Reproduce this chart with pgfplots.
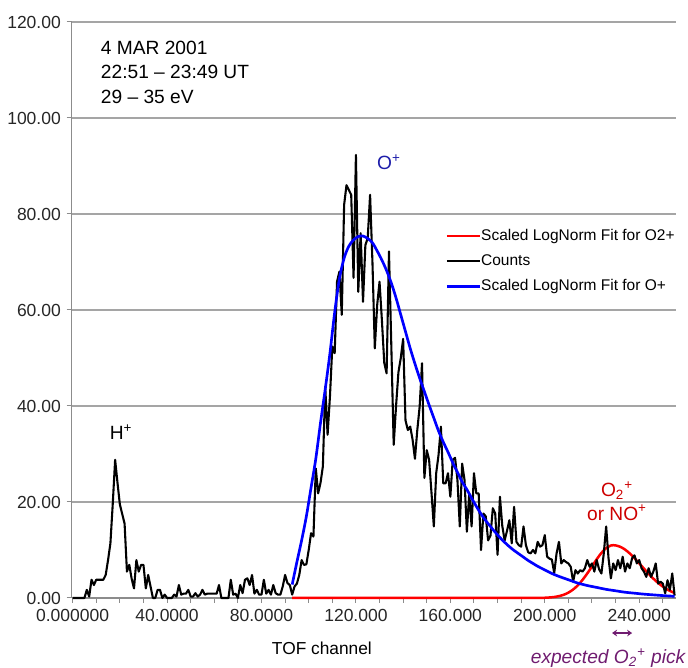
\documentclass[border=0pt]{standalone}
\usepackage{fontspec}
\setmainfont{Liberation Sans}
\usepackage{pgfplots}
\pgfplotsset{compat=1.18}
\usepackage{pgfplotstable}
\usetikzlibrary{arrows.meta}
\definecolor{gridgray}{RGB}{165,165,165}
\definecolor{axgray}{RGB}{140,140,140}
\definecolor{annblue}{RGB}{30,30,170}
\definecolor{annred}{RGB}{205,0,0}
\definecolor{annpurple}{RGB}{112,28,112}

\pgfplotstableread{
x y
0 0
1 0
2 0
3 0
4 0
5 0
6 1.7
7 0.3
8 3.8
9 2.7
10 3.8
11 3.8
12 3.8
13 3.8
14 4.8
15 7.9
16 11.4
17 19.7
18 28.8
19 24
20 19.5
21 17.5
22 15.5
23 5.5
24 6.9
25 4
26 2
27 7.9
28 5.5
29 6.9
30 6.9
31 2
32 4.8
33 2.4
34 0
35 0
36 1.7
37 1.7
38 0
39 0.7
40 0
41 0
42 0
43 0.7
44 0.3
45 2.7
46 0.7
47 0.9
48 0.9
49 1.7
50 0.3
51 0.3
52 1
53 0.3
54 0.7
55 1.7
56 0.7
57 0.9
58 0.9
59 0.9
60 0.9
61 0.9
62 2.7
63 0
64 0
65 0
66 0
67 3.8
68 0.7
69 0.9
70 0
71 2.7
72 1
73 3.8
74 4.1
75 2.7
76 4.8
77 0.9
78 1.7
79 0.7
80 0.7
81 3.8
82 0.9
83 1.7
84 0.7
85 2.7
86 1
87 0.7
88 0.7
89 2.4
90 4.8
91 3.1
92 2.7
93 0.7
94 2.4
95 3
96 4.8
97 7.9
98 6.9
99 7
100 10
101 13.5
102 12.8
103 27
104 21.8
105 24
106 27.4
107 44
108 34
109 42
110 52.4
111 51
112 65.9
113 68
114 59
115 81.9
116 86
117 85
118 84
119 66.7
120 92.3
121 63.8
122 76
123 61.7
124 73.5
125 75
126 84
127 70
128 52
129 61
130 65.9
131 57.9
132 49
133 46.8
134 72.2
135 52.4
136 31.9
137 40
138 47
139 50
140 54
141 37
142 35
143 35.7
144 33
145 29
146 35
147 39.9
148 48.9
149 25
150 30.8
151 28.8
152 22
153 14.9
154 26
155 29.8
156 35.7
157 23.9
158 23.9
159 26
160 21.1
161 28.8
162 29.2
163 24.6
164 14.9
165 28
166 24.6
167 13.8
168 21.8
169 14.9
170 26
171 21.8
172 21.8
173 10
174 17.6
175 17
176 12
177 13
178 18.7
179 17.6
180 9
181 21.1
182 15
183 12
184 14
185 16.2
186 11.4
187 19
188 11.7
189 11
190 10.7
191 14.9
192 11
193 9.5
194 9.3
195 10
196 9.3
197 11.7
198 10.7
199 11
200 13.1
201 8.6
202 8.2
203 8
204 5.2
205 9.3
206 11.7
207 7.2
208 7.9
209 7.5
210 7.2
211 6.5
212 3.4
213 5.8
214 5.1
215 5.8
216 5.5
217 6.2
218 7.9
219 6.5
220 7.2
221 5.5
222 7.9
223 6
224 5.1
225 9.3
226 14.9
227 8.3
228 4.1
229 7.2
230 5.8
231 7.9
232 6.2
233 8.6
234 5.5
235 7.2
236 6.2
237 8.3
238 8.9
239 7.2
240 7.9
241 6.2
242 5.5
243 4.4
244 6.2
245 4.4
246 5.5
247 7.2
248 3
249 3.4
250 3
251 1
252 3.7
253 1.7
254 5.1
255 0.5
}\counts

\pgfplotstableread{
x y
93 2.8
95 7.5
97 12
99 17
101 23
103 29
105 36.5
107 43.5
109 51
111 59.5
113 66.5
115 70.8
117 73.3
119 74.6
121 75.3
123 75.4
125 74.9
127 74
129 72.3
131 70.4
133 68.2
135 65.6
137 62.5
139 59
141 55.5
143 52
145 48.8
147 45.8
149 43
151 40.2
153 37.5
155 34.8
157 32.5
159 30.4
161 28.2
163 26.2
165 24.2
167 22.6
169 20.8
171 19.1
173 17.5
175 16.1
177 14.9
179 13.7
181 12.6
183 11.6
185 10.7
187 9.9
189 9.2
191 8.5
193 7.8
195 7.2
197 6.6
199 6.1
201 5.6
203 5.1
206 4.5
210 3.8
214 3.1
218 2.6
222 2.2
226 1.8
230 1.5
234 1.2
238 1.0
242 0.8
246 0.65
250 0.5
255 0.35
}\ofit

\pgfplotstableread{
x y
93 0
150 0
196 0
198 0.02
200 0.05
202 0.11
204 0.21
206 0.39
208 0.67
210 1.12
212 1.76
214 2.65
216 3.77
218 5.11
220 6.59
222 8.07
224 9.39
226 10.39
228 10.93
229 11
230 10.96
232 10.66
234 10.09
236 9.28
238 8.30
240 7.23
242 6.12
244 5.04
246 4.03
248 3.14
250 2.38
252 1.75
254 1.25
255 1.05
}\otwofit

\begin{document}
\begin{tikzpicture}
\useasboundingbox (-43.02pt,-42pt) rectangle (369.78pt,358.8pt);
\begin{axis}[
 at={(0,0)}, anchor=south west,
 width=362.6pt, height=345.6pt, scale only axis,
 xmin=-0.4, xmax=255.6, ymin=0, ymax=120,
 axis x line*=bottom, axis y line*=left,
 axis line style={axgray, line width=0.8pt, -},
 xtick={0,40,...,240},
 xticklabels={0.000000,40.0000,80.0000,120.000,160.000,200.000,240.000},
 minor xtick={10,20,...,250},
 ytick={0,20,...,120},
 tick align=outside,
 major tick length=3pt, minor tick length=3pt,
 tick style={axgray, line width=0.6pt},
 ymajorgrids, grid style={gridgray, line width=0.8pt},
 yticklabel style={/pgf/number format/.cd, fixed, fixed zerofill, precision=2, assume math mode=true},
 ticklabel style={font=\fontsize{10.5}{12}\selectfont, text=black!85},
 clip=false,
 legend style={draw=none, fill=none, at={(0.618,0.642)}, anchor=north west,
   font=\fontsize{9.3}{11}\selectfont, row sep=6.2pt, inner sep=0pt,
   nodes={inner sep=0pt, text height=7pt, text depth=2pt},
   /tikz/every even column/.append style={column sep=3pt}},
 legend cell align=left,
 legend image code/.code={\draw[#1] (0pt,0pt) -- (19.8pt,0pt);},
]
\addplot[red, line width=1.5pt, smooth] table {\otwofit};
\addlegendentry{Scaled LogNorm Fit for O2+}
\addplot[black, line width=1.25pt, line join=round] table {\counts};
\addlegendentry{Counts}
\addplot[blue, line width=1.6pt, smooth] table {\ofit};
\addlegendentry{Scaled LogNorm Fit for O+}

\node[anchor=west, align=left, font=\fontsize{11.5}{14.7}\selectfont] at (axis cs:9.5,109.6) {4 MAR 2001\\22:51 – 23:49 UT\\29 – 35 eV};
\node[font=\fontsize{11.5}{14}\selectfont] at (axis cs:20.5,34.6) {H\textsuperscript{+}};
\node[font=\fontsize{11.5}{14}\selectfont, text=annblue] at (axis cs:134,90.8) {O\textsuperscript{+}};
\node[font=\fontsize{11.5}{14}\selectfont, text=annred, align=center] at (axis cs:230.6,20.2) {O\textsubscript{2}\textsuperscript{+}\\or NO\textsuperscript{+}};
\node[font=\fontsize{10.4}{12}\selectfont] at (axis cs:105.6,-10.4) {TOF channel};
\node[font=\itshape\fontsize{11.5}{14}\selectfont, text=annpurple] at (axis cs:226.8,-12.5) {expected O\textsubscript{2}\textsuperscript{+} pick};
\draw[annpurple, line width=0.9pt, {Stealth[length=3pt,width=4pt]}-{Stealth[length=3pt,width=4pt]}] (axis cs:228.5,-7.3) -- (axis cs:237,-7.3);
\end{axis}
\end{tikzpicture}
\end{document}
